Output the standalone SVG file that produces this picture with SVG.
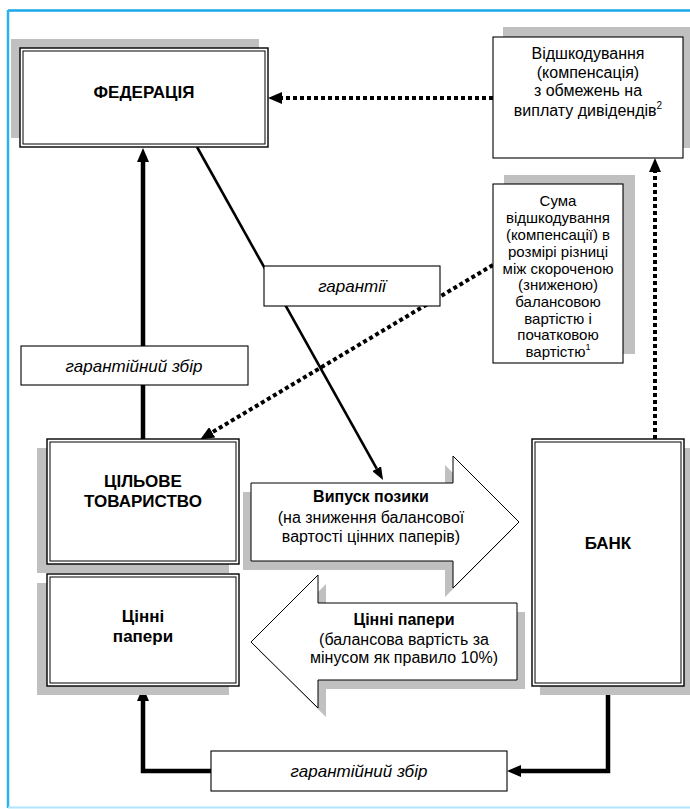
<svg xmlns="http://www.w3.org/2000/svg" width="690" height="809" viewBox="0 0 690 809">
<defs>
<style>
text{font-family:"Liberation Sans",Arial,sans-serif;fill:#000}
.t{font-size:17px;font-weight:bold;text-anchor:middle}
.r{font-size:16px;text-anchor:middle}
.s{font-size:15px;text-anchor:middle}
.b{font-size:16px;font-weight:bold;text-anchor:middle}
.i{font-size:17px;font-style:italic;text-anchor:middle}
.sh{fill:#c0c0c0}
.o{fill:#fff;stroke:#000;stroke-width:1.4}
.in{fill:none;stroke:#000;stroke-width:1}
.box{fill:#fff;stroke:#000;stroke-width:1.1}
.thick{fill:none;stroke:#000;stroke-width:4.5}
.thin{fill:none;stroke:#000;stroke-width:2.6}
.dot{fill:none;stroke:#000;stroke-width:4;stroke-dasharray:4 3}
.big{fill:#fff;stroke:#000;stroke-width:1}
</style>
<marker id="ah" viewBox="0 0 10 10" refX="0" refY="5" markerUnits="userSpaceOnUse" markerWidth="14" markerHeight="12" preserveAspectRatio="none" orient="auto"><path d="M0,0 L10,5 L0,10 z" fill="#000"/></marker>
<marker id="ahs" viewBox="0 0 10 10" refX="0" refY="5" markerUnits="userSpaceOnUse" markerWidth="13" markerHeight="10" preserveAspectRatio="none" orient="auto"><path d="M0,0 L10,5 L0,10 z" fill="#000"/></marker>
</defs>
<rect width="690" height="809" fill="#fff"/>
<g id="frame">
<line x1="8" y1="10.5" x2="690" y2="10.5" stroke="#1aa8e8" stroke-width="2.5"/>
<line x1="8" y1="10" x2="8" y2="808" stroke="#2ab2ee" stroke-width="2.5"/>
<line x1="8" y1="807.5" x2="690" y2="807.5" stroke="#aee6ff" stroke-width="2"/>
</g>
<g id="connectors">
<path class="thick" d="M143,439 V162" marker-end="url(#ah)"/>
<path class="thin" d="M197,147 L376.7,468.7" marker-end="url(#ahs)"/>
<path class="dot" d="M493,98 H282" marker-end="url(#ah)"/>
<path class="dot" d="M655,439 V172" marker-end="url(#ah)"/>
<path class="dot" d="M493,265 L212.2,432.3" marker-end="url(#ah)"/>
<path class="thick" d="M608,686 V771 H521" marker-end="url(#ah)"/>
<path class="thick" d="M211,771 H143 V701" marker-end="url(#ah)"/>
</g>
<g id="federation">
<rect class="sh" x="11" y="39" width="248" height="99"/>
<rect class="o" x="20" y="48" width="248" height="99"/>
<rect class="in" x="23" y="51" width="242" height="93"/>
<text class="t" x="144" y="98">ФЕДЕРАЦІЯ</text>
</g>
<g id="compensation-dividends">
<rect class="sh" x="503" y="27" width="190" height="121"/>
<rect class="box" x="493" y="37" width="190" height="121"/>
<text class="r" x="588" y="58.5">Відшкодування</text>
<text class="r" x="588" y="77.5">(компенсація)</text>
<text class="r" x="588" y="96">з обмежень на</text>
<text class="r" x="588" y="115.5">виплату дивідендів<tspan font-size="10" dy="-7">2</tspan></text>
</g>
<g id="compensation-sum">
<rect class="sh" x="504" y="175" width="131" height="179"/>
<rect class="box" x="493" y="184" width="130" height="179"/>
<text class="s" x="558" y="206">Сума</text>
<text class="s" x="558" y="223">відшкодування</text>
<text class="s" x="558" y="240">(компенсації) в</text>
<text class="s" x="558" y="257">розмірі різниці</text>
<text class="s" x="558" y="273.5">між скороченою</text>
<text class="s" x="558" y="290">(зниженою)</text>
<text class="s" x="558" y="307">балансовою</text>
<text class="s" x="558" y="323.5">вартістю і</text>
<text class="s" x="558" y="340">початковою</text>
<text class="s" x="558" y="357">вартістю<tspan font-size="9" dy="-7">1</tspan></text>
</g>
<g id="label-guarantees">
<rect class="box" x="264" y="266" width="176" height="40"/>
<text class="i" x="352" y="292">гарантії</text>
</g>
<g id="label-fee-top">
<rect class="box" x="21" y="346" width="227" height="39"/>
<text class="i" x="134" y="372">гарантійний збір</text>
</g>
<g id="target-company">
<rect class="sh" x="37" y="448" width="192" height="125"/>
<rect class="o" x="47" y="439" width="192" height="125"/>
<rect class="in" x="50" y="442" width="186" height="119"/>
<text class="t" x="143" y="487">ЦІЛЬОВЕ</text>
<text class="t" x="143" y="507">ТОВАРИСТВО</text>
</g>
<g id="securities">
<rect class="sh" x="37" y="583" width="192" height="112"/>
<rect class="o" x="47" y="574" width="192" height="112"/>
<rect class="in" x="50" y="577" width="186" height="106"/>
<text class="t" x="143" y="622">Цінні</text>
<text class="t" x="143" y="642">папери</text>
</g>
<g id="bank">
<rect class="sh" x="540" y="448" width="152" height="247"/>
<rect class="o" x="532" y="439" width="152" height="247"/>
<rect class="in" x="535" y="442" width="146" height="241"/>
<text class="t" x="608" y="549">БАНК</text>
</g>
<g id="loan-issue">
<polygon class="sh" transform="translate(-8,9)" points="251,483 453,483 453,456 519,522 453,588 453,561 251,561"/>
<polygon class="big" points="251,483 453,483 453,456 519,522 453,588 453,561 251,561"/>
<text class="b" x="371" y="502">Випуск позики</text>
<text class="r" x="371" y="523">(на зниження балансової</text>
<text class="r" x="371" y="542">вартості цінних паперів)</text>
</g>
<g id="securities-transfer">
<polygon class="sh" transform="translate(8,9)" points="517,603 318,603 318,575 251,642 318,708 318,680 517,680"/>
<polygon class="big" points="517,603 318,603 318,575 251,642 318,708 318,680 517,680"/>
<text class="b" x="404" y="625">Цінні папери</text>
<text class="r" x="404" y="645">(балансова вартість за</text>
<text class="r" x="404" y="663">мінусом як правило 10%)</text>
</g>
<g id="label-fee-bottom">
<rect class="box" x="211" y="751" width="296" height="40"/>
<text class="i" x="359" y="777">гарантійний збір</text>
</g>
</svg>
